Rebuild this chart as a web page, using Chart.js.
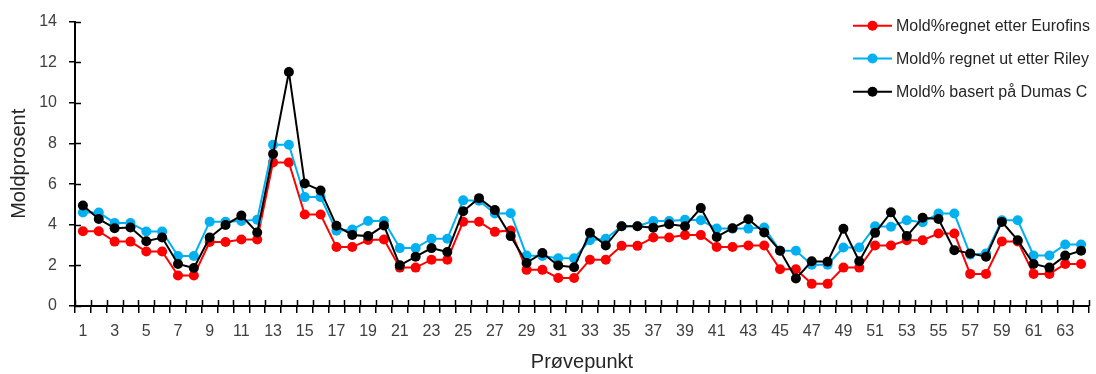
<!DOCTYPE html>
<html>
<head>
<meta charset="utf-8">
<script src="https://cdn.jsdelivr.net/npm/chart.js@4/dist/chart.umd.min.js"></script>
<style>
html,body{margin:0;padding:0;background:#fff;}
#wrap{position:relative;width:1096px;height:374px;}
</style>
</head>
<body>
<div id="wrap"><canvas id="c" width="1096" height="374"></canvas></div>
<script>
const categories = Array.from({length:64}, (_, i) => String(i + 1));

const seriesNames = [
  "Mold%regnet etter Eurofins",
  "Mold% regnet ut etter Riley",
  "Mold% basert på Dumas C"
];

const eurofins = [3.68,3.68,3.17,3.17,2.68,2.68,1.5,1.5,3.15,3.15,3.27,3.27,7.07,7.07,4.5,4.5,
  2.9,2.9,3.25,3.27,1.89,1.89,2.28,2.28,4.15,4.15,3.65,3.72,1.78,1.78,1.38,1.38,
  2.28,2.28,2.96,2.96,3.37,3.37,3.49,3.49,2.9,2.9,2.98,2.98,1.81,1.81,1.09,1.09,
  1.89,1.89,2.98,2.98,3.24,3.24,3.57,3.57,1.58,1.58,3.18,3.18,1.58,1.58,2.07,2.07];

const riley = [4.6,4.6,4.09,4.09,3.67,3.67,2.46,2.46,4.15,4.15,4.18,4.25,7.94,7.94,5.36,5.36,
  3.7,3.76,4.18,4.18,2.85,2.85,3.31,3.31,5.2,5.18,4.55,4.57,2.49,2.46,2.35,2.35,
  3.24,3.31,3.93,3.93,4.18,4.18,4.25,4.22,3.81,3.81,3.81,3.86,2.72,2.72,2.03,2.03,
  2.88,2.88,3.93,3.9,4.22,4.12,4.55,4.55,2.53,2.59,4.22,4.22,2.49,2.49,3.03,3.03];

const dumas = [4.95,4.28,3.83,3.86,3.19,3.37,2.07,1.87,3.37,3.99,4.45,3.62,7.48,11.52,6.03,5.69,
  3.95,3.5,3.44,3.96,2.0,2.43,2.85,2.66,4.66,5.31,4.72,3.44,2.12,2.61,1.99,1.91,
  3.6,2.98,3.93,3.93,3.85,4.02,3.93,4.82,3.4,3.83,4.27,3.62,2.72,1.35,2.2,2.18,
  3.8,2.2,3.6,4.61,3.44,4.34,4.28,2.75,2.59,2.43,4.14,3.24,2.07,1.89,2.48,2.72];

const yTicks = [0,2,4,6,8,10,12,14];

const colors = ["#FF0000", "#00B0F0", "#000000"];
const FONT = "'Liberation Sans', Arial, sans-serif";
const TICK_COLOR = "#404040";
const TITLE_COLOR = "#262626";

const crossTicks = {
  id: 'crossTicks',
  afterDraw(chart) {
    const x = chart.scales.x, y = chart.scales.y, ctx = chart.ctx;
    const n = categories.length;
    const w = (x.right - x.left) / n;
    ctx.save();
    ctx.strokeStyle = '#000';
    ctx.lineWidth = 1.5;
    ctx.beginPath();
    for (let i = 0; i <= n; i++) {
      const px = Math.round(x.left + i * w) + 0.5;
      ctx.moveTo(px, x.top - 6);
      ctx.lineTo(px, x.top);
    }
    y.ticks.forEach(t => {
      const py = Math.round(y.getPixelForValue(t.value)) + 0.5;
      ctx.moveTo(y.right, py);
      ctx.lineTo(y.right + 6, py);
    });
    ctx.stroke();
    ctx.restore();
  }
};

const customLegend = {
  id: 'customLegend',
  afterDraw(chart) {
    const ctx = chart.ctx;
    const ys = [25.7, 58.5, 91.7];
    ctx.save();
    ctx.font = "16px " + FONT;
    ctx.textBaseline = 'middle';
    ctx.textAlign = 'left';
    seriesNames.forEach((name, i) => {
      const y = ys[i];
      ctx.strokeStyle = colors[i];
      ctx.lineWidth = 2;
      ctx.beginPath();
      ctx.moveTo(853, y);
      ctx.lineTo(892, y);
      ctx.stroke();
      ctx.fillStyle = colors[i];
      ctx.beginPath();
      ctx.arc(872.5, y, 5, 0, Math.PI * 2);
      ctx.fill();
      ctx.fillStyle = TITLE_COLOR;
      ctx.fillText(name, 896, y + 1);
    });
    ctx.restore();
  }
};

new Chart(document.getElementById('c'), {
  type: 'line',
  data: {
    labels: categories,
    datasets: [
      {label: seriesNames[0], data: eurofins, borderColor: colors[0], backgroundColor: colors[0], order: 3},
      {label: seriesNames[1], data: riley, borderColor: colors[1], backgroundColor: colors[1], order: 2},
      {label: seriesNames[2], data: dumas, borderColor: colors[2], backgroundColor: colors[2], order: 1}
    ].map(d => Object.assign(d, {borderWidth: 2, pointRadius: 5, pointHoverRadius: 5, pointBorderWidth: 0, tension: 0, fill: false}))
  },
  options: {
    responsive: false,
    animation: false,
    layout: {padding: {top: 20, right: 7, left: 0, bottom: 0}},
    plugins: {legend: {display: false}, tooltip: {enabled: false}},
    scales: {
      x: {
        type: 'category',
        offset: true,
        grid: {display: true, drawOnChartArea: false, offset: true, tickLength: 7, color: '#000', lineWidth: 1.5},
        border: {display: true, color: '#000', width: 2},
        ticks: {
          autoSkip: false, maxRotation: 0, minRotation: 0, padding: 9,
          color: TICK_COLOR, font: {family: FONT, size: 16},
          callback: function(v, i) { return i % 2 === 0 ? categories[i] : ''; }
        },
        title: {display: true, text: 'Prøvepunkt', color: TITLE_COLOR, font: {family: FONT, size: 20}, padding: {top: 0, bottom: 0}},
        afterFit(s) { s.height = 68; }
      },
      y: {
        min: 0, max: 14,
        afterBuildTicks(s) { s.ticks = yTicks.map(v => ({value: v})); },
        grid: {display: true, drawOnChartArea: false, tickLength: 6, color: '#000', lineWidth: 1.5},
        border: {display: true, color: '#000', width: 2},
        ticks: {padding: 12, color: TICK_COLOR, font: {family: FONT, size: 16}},
        title: {display: true, text: 'Moldprosent', color: TITLE_COLOR, font: {family: FONT, size: 20}, padding: {top: 7, bottom: 0}},
        afterFit(s) { s.width = 75; }
      }
    }
  },
  plugins: [crossTicks, customLegend]
});
</script>
</body>
</html>
